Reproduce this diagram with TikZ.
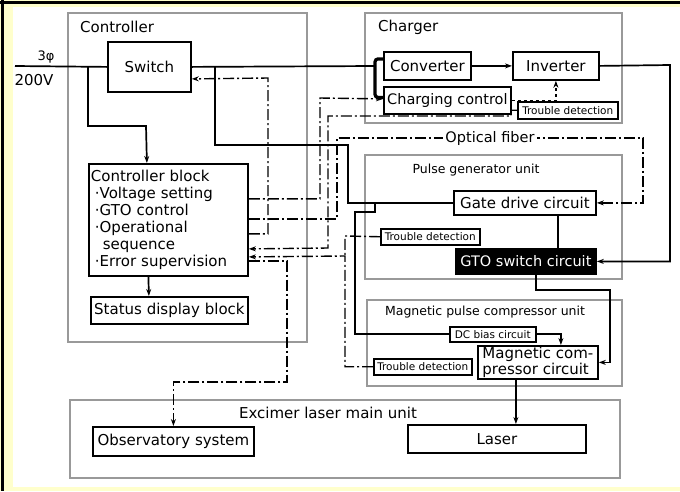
\documentclass[tikz,border=0pt]{standalone}
\usepackage{fontspec}
\setmainfont{DejaVu Sans}
\usetikzlibrary{arrows.meta}
\definecolor{paleyellow}{RGB}{255,255,204}
\tikzset{
  unit/.style={draw=black!40, line width=1.1pt},
  blk/.style={draw, line width=1.8pt, inner sep=0pt, anchor=north west, font=\fontsize{15}{17}\selectfont},
  tiny/.style={draw, line width=1.5pt, inner sep=0pt, anchor=north west, font=\fontsize{10.5}{12}\selectfont},
  ttl/.style={inner sep=0pt, font=\fontsize{15}{17}\selectfont},
  pw/.style={line width=1.7pt},
  sig/.style={line width=1.4pt, dash pattern=on 11pt off 3pt on 2pt off 3pt},
  tip/.style={-{Stealth[length=7pt,width=5pt]}}
}
\begin{document}
\begin{tikzpicture}[x=1pt,y=-1pt]
\useasboundingbox (0,0) rectangle (680,491);
\fill[paleyellow] (0,0) rectangle (680,491);
\fill[white] (13,7) rectangle (680,487);
\draw[line width=2.5pt] (0,2.5) -- (680,2.5) (2.5,0) -- (2.5,491);
% unit frames
\draw[unit] (68,13) rectangle (307,342);
\draw[unit] (365,13) rectangle (622,123);
\draw[unit] (365,155) rectangle (622,279);
\draw[unit] (367,300) rectangle (622,386);
\draw[unit] (70,400) rectangle (620,478);
\node[ttl, anchor=west] (tctl) at (80,27) {Controller};
\node[ttl, anchor=west] (tchg) at (378,27) {Charger};
\node[ttl, font=\fontsize{12.5}{14}\selectfont] (tpg) at (476,170) {Pulse generator unit};
\node[ttl, font=\fontsize{12.5}{14}\selectfont] (tmp) at (485,312) {Magnetic pulse compressor unit};
\node[ttl] (tex) at (328,413) {Excimer laser main unit};
% blocks
\node[ttl, font=\fontsize{13}{15}\selectfont] (phase) at (46,57) {3φ};
\node[ttl] (volt) at (34,80) {200V};
\coordinate (in) at (15,66);
\node[blk, minimum width=83pt, minimum height=50pt] (sw) at (107,41) {Switch};
\node[blk, minimum width=159pt, minimum height=112pt, text width=155pt, align=left] (ctl) at (88,163)
  {Controller block\\
   \hspace*{4pt}·Voltage setting\\
   \hspace*{4pt}·GTO control\\
   \hspace*{4pt}·Operational\\
   \hspace*{12pt}sequence\\
   \hspace*{4pt}·Error supervision};
\node[blk, minimum width=157pt, minimum height=27pt] (stat) at (90,296) {Status display block};
\node[blk, minimum width=87pt, minimum height=28pt] (conv) at (383,51) {Converter};
\node[blk, minimum width=86pt, minimum height=28pt] (inv) at (512,51) {Inverter};
\node[blk, minimum width=127pt, minimum height=27pt, font=\fontsize{14.5}{17}\selectfont] (chg) at (383,86) {Charging control};
\node[tiny, minimum width=100pt, minimum height=17pt] (trba) at (517,101) {Trouble detection};
\node[blk, minimum width=142pt, minimum height=24pt] (gate) at (453,190) {Gate drive circuit};
\node[tiny, minimum width=99pt, minimum height=16pt] (trbb) at (380,228) {Trouble detection};
\node[blk, fill=black, text=white, minimum width=140pt, minimum height=25pt, font=\fontsize{14.5}{17}\selectfont] (gto) at (455,248) {GTO switch circuit};
\node[tiny, minimum width=86pt, minimum height=15pt] (dcb) at (449,326) {DC bias circuit};
\node[blk, minimum width=120pt, minimum height=33pt, align=left, font=\fontsize{15}{14}\selectfont] (mag) at (477,345) {Magnetic com-\\pressor circuit};
\node[tiny, minimum width=98pt, minimum height=16pt] (trbc) at (373,358) {Trouble detection};
\node[blk, minimum width=161pt, minimum height=29pt] (obs) at (92,426) {Observatory system};
\node[blk, minimum width=178pt, minimum height=28pt] (las) at (407,424) {Laser};
% power lines
\draw[pw] (in) -- (sw.west);
\draw[pw, tip] (88,66) |- (146,126) -- ([xshift=-21.5pt]ctl.north);
\draw[pw] (sw.east) -- (375,66);
\draw[line width=3.2pt, rounded corners=3pt] ([yshift=7pt]conv.west) -- ++(-8,0) |- ([yshift=3pt]chg.west);
\draw[pw] (215,66) |- (348,145) |- (gate.west);
\draw[pw] (375,202) |- (355,212) |- (dcb.west);
\draw[pw, tip] (conv) -- (inv);
\draw[pw, dashed, tip] (chg.east) -| (inv.south);
\draw[pw, tip] (inv.east) -- (670,65) |- (gto.east);
\draw[pw] ([xshift=33pt]gate.south) -- ([xshift=32pt]gto.north);
\draw[pw, tip] ([xshift=10pt]gto.south) |- (610,290) |- (mag.east);
\draw[pw, tip] (dcb.east) -| ([xshift=23pt]mag.north);
\draw[pw, tip] ([xshift=-22pt]mag.south) -- ([xshift=19pt]las.north);
\draw[pw, tip] ([xshift=-20pt]ctl.south) -- ([xshift=-20.5pt]stat.north);
% optical fiber
\draw[sig, tip] ([yshift=21pt]ctl.east) -| (320,98) -- ([yshift=1.5pt]chg.west);
\draw[sig, tip] ([yshift=1pt]ctl.east) -| (337,138)
  -- node[fill=white, inner sep=2pt, font=\fontsize{14.5}{17}\selectfont] (ofib) {Optical fiber} (643,138) |- (gate.east);
\draw[sig, tip] ([yshift=-14pt]ctl.east) -| (268,78) -- ([yshift=-12pt]sw.east);
\draw[sig, tip] (trba.west) -- ++(-6,0) |- (328,116) -- (328,248) -- ([yshift=-29pt]ctl.east);
\draw[sig] (trbb.west) -- (345,236) -- (345,256);
\draw[sig, tip] (trbc.west) -| (345,256) -- ([yshift=-37pt]ctl.east);
\draw[sig, tip] ([yshift=-41pt]ctl.east) -| (287,382) -| (obs.north);
\end{tikzpicture}
\end{document}
